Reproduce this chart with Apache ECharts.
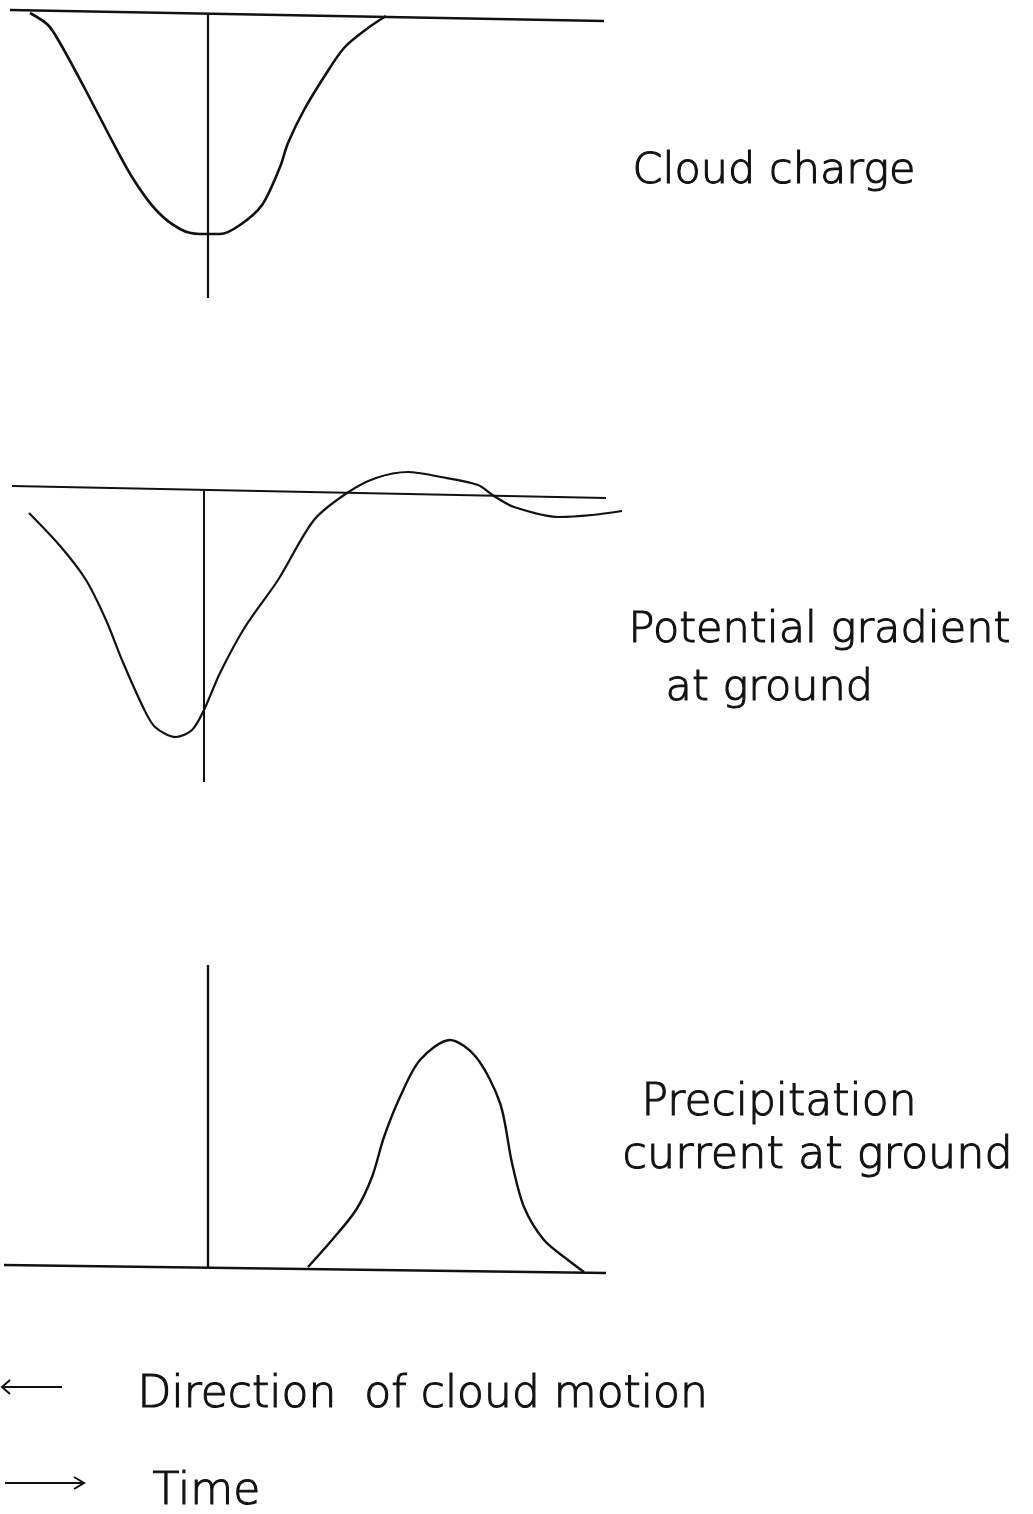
<!DOCTYPE html>
<html>
<head>
<meta charset="utf-8">
<script src="https://cdn.jsdelivr.net/npm/echarts@6/dist/echarts.min.js"></script>
<style>html,body{margin:0;padding:0;background:#fff}#c{width:1033px;height:1514px}</style>
</head>
<body>
<div id="c"></div>
<script>
// Panel 1: cloud charge (time t, arbitrary amplitude)
const cloudBaseline = [[-9.9, 0], [19.8, -1.1]];
const cloudVertical = [[0, -0.3], [0, -28.8]];
const cloudCharge = [
  [-8.9, -0.3], [-8.0, -1.5], [-7.4, -3.3], [-6.2, -7.7], [-5.0, -12.3], [-3.8, -16.7],
  [-2.6, -20.0], [-1.4, -21.9], [-0.4, -22.4], [0.6, -22.4], [1.6, -21.5], [2.7, -19.5],
  [3.6, -15.7], [4.0, -13.3], [4.8, -10.0], [5.8, -6.7], [6.8, -3.8], [8.0, -1.8], [8.9, -0.6]
];
// Panel 2: potential gradient at ground
const pgBaseline = [[-9.6, 0], [20.1, -1.2]];
const pgVertical = [[0, -0.5], [0, -29.6]];
const potentialGradient = [
  [-8.75, -2.7], [-7.15, -6.1], [-5.9, -9.4], [-4.9, -13.4], [-4.1, -17.4], [-3.05, -22.1],
  [-2.45, -24.1], [-1.4, -25.1], [-0.6, -24.4], [0, -22.4], [0.8, -18.7], [2.05, -14.1],
  [3.7, -9.4], [5.5, -3.4], [7.15, -0.7], [8.6, 0.8], [10.2, 1.4], [11.85, 0.9], [13.7, 0.1],
  [14.5, -1.0], [15.5, -2.1], [17.75, -3.1], [19.4, -2.9], [20.9, -2.5]
];
// Panel 3: precipitation current at ground
const pcBaseline = [[-10.2, 0.2], [19.9, -0.6]];
const pcVertical = [[0, 30.2], [0, 0]];
const precipCurrent = [
  [5.0, 0], [6.2, 2.7], [7.4, 5.7], [8.2, 9.0], [8.8, 13.0], [9.6, 17.0], [10.6, 20.7],
  [12.1, 22.7], [13.4, 21.0], [14.6, 16.4], [15.2, 10.4], [15.8, 6.0], [16.8, 2.7],
  [18.0, 0.7], [18.8, -0.5]
];
const panelLabels = ['Cloud charge', 'Potential gradient', 'at ground', 'Precipitation', 'current at ground'];
const legendLabels = ['Direction  of cloud motion', 'Time'];

const INK = '#111';
const FONT = "'DejaVu Sans', sans-serif";
const chart = echarts.init(document.getElementById('c'), null, {renderer: 'canvas'});

function xAx(i, min, max) {
  return {type: 'value', gridIndex: i, min: min, max: max, show: false};
}
function yAx(i, min, max) {
  return {type: 'value', gridIndex: i, min: min, max: max, show: false};
}
function ln(i, data, smooth, w) {
  return {
    type: 'line', xAxisIndex: i, yAxisIndex: i, data: data, showSymbol: false, symbol: 'none',
    smooth: smooth, lineStyle: {color: INK, width: w}, silent: true, z: 2
  };
}
function txt(str, x, y, size) {
  return {type: 'text', left: x, top: y, style: {
    text: str, font: '300 ' + size + 'px ' + FONT, fill: INK, stroke: INK, lineWidth: 1.1
  }};
}

chart.setOption({
  animation: false,
  backgroundColor: '#fff',
  grid: [
    {left: 3, width: 640, top: 0, height: 300},
    {left: 4, width: 640, top: 456, height: 340},
    {left: 3, width: 640, top: 947, height: 340}
  ],
  xAxis: [xAx(0, -10.25, 21.75), xAx(1, -10, 22), xAx(2, -10.25, 21.75)],
  yAxis: [yAx(0, -29, 1), yAx(1, -31, 3), yAx(2, -2, 32)],
  series: [
    ln(0, cloudBaseline, false, 2.4), ln(0, cloudVertical, false, 2.2), ln(0, cloudCharge, 0.3, 2.6),
    ln(1, pgBaseline, false, 2.2), ln(1, pgVertical, false, 2), ln(1, potentialGradient, 0.3, 2.2),
    ln(2, pcBaseline, false, 2.4), ln(2, pcVertical, false, 2.4), ln(2, precipCurrent, 0.3, 2.4)
  ],
  graphic: [
    txt(panelLabels[0], 632, 150, 43),
    txt(panelLabels[1], 628, 609, 43),
    txt(panelLabels[2], 665, 667, 43),
    txt(panelLabels[3], 641, 1081, 44),
    txt(panelLabels[4], 622, 1133, 44.5),
    txt(legendLabels[0], 137, 1373, 44),
    txt(legendLabels[1], 152, 1470, 44),
    {type: 'polyline', shape: {points: [[62, 1387], [2, 1387]]}, style: {stroke: INK, lineWidth: 2, fill: null}},
    {type: 'polyline', shape: {points: [[10, 1380], [2, 1387], [10, 1394]]}, style: {stroke: INK, lineWidth: 2, fill: null}},
    {type: 'polyline', shape: {points: [[5, 1483], [84, 1483]]}, style: {stroke: INK, lineWidth: 2, fill: null}},
    {type: 'polyline', shape: {points: [[74, 1477], [84, 1483], [74, 1489]]}, style: {stroke: INK, lineWidth: 2, fill: null}}
  ]
});
</script>
</body>
</html>
